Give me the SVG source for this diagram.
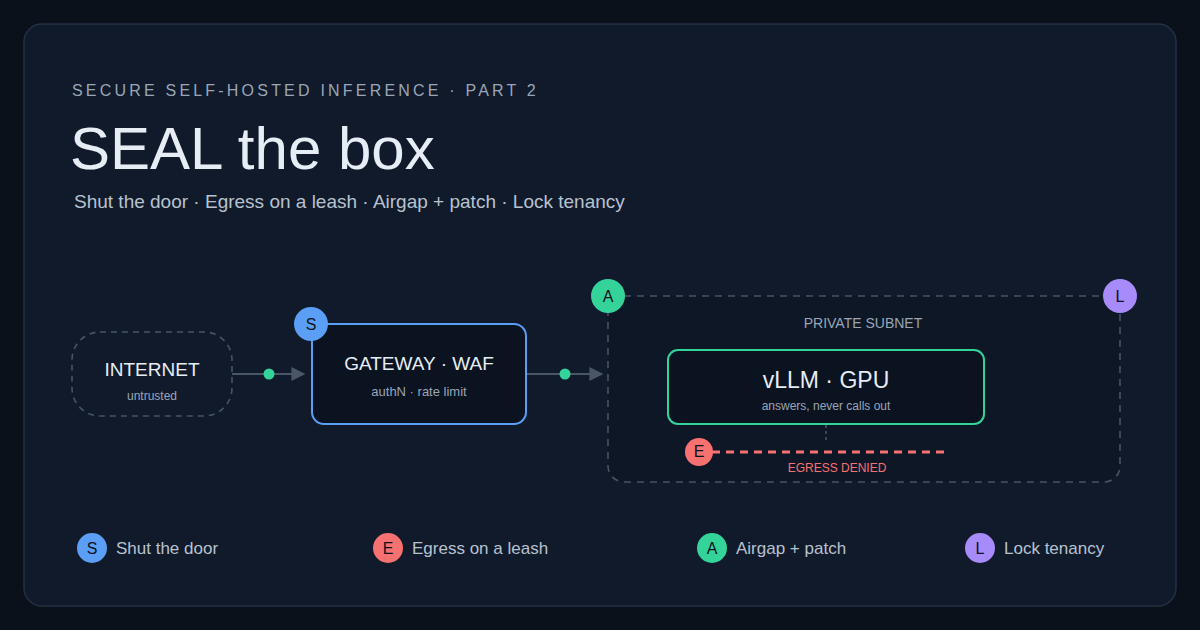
<svg xmlns="http://www.w3.org/2000/svg" width="1200" height="630" viewBox="0 0 1200 630">
<defs>
<style>
text{font-family:"Liberation Sans",Arial,sans-serif}
.t{fill:#e6edf5}.s{fill:#9aa6b6}
.badge text{font-size:16px;fill:#0b1220;text-anchor:middle}
.lg{font-size:17px;fill:#b8c2cf}
.conn{stroke:#4a5566;stroke-width:2;fill:none}
</style>
<marker id="ar" viewBox="0 0 10 10" refX="9" refY="5" markerWidth="7" markerHeight="7" orient="auto"><path d="M0,0L10,5L0,10z" fill="#4a5566"/></marker>
</defs>
<rect width="1200" height="630" fill="#0b111a"/>
<rect x="24" y="24" width="1152" height="582" rx="18" fill="#101a2b" stroke="#233044" stroke-width="1.5"/>
<text x="72" y="96" font-size="16" letter-spacing="3.2" class="s">SECURE SELF-HOSTED INFERENCE · PART 2</text>
<text x="70" y="169" font-size="60" class="t">SEAL the box</text>
<text x="74" y="208" font-size="19" fill="#b8c2cf">Shut the door · Egress on a leash · Airgap + patch · Lock tenancy</text>

<g id="subnet">
<rect x="608" y="296" width="512" height="186" rx="16" fill="#0e1726" stroke="#475366" stroke-width="1.6" stroke-dasharray="7 6"/>
<text x="863" y="328" font-size="14" text-anchor="middle" class="s">PRIVATE SUBNET</text>
</g>
<g id="connectors">
<line class="conn" x1="232" y1="374" x2="304" y2="374" marker-end="url(#ar)"/>
<circle cx="269" cy="374" r="5.5" fill="#34d399"/>
<line class="conn" x1="526" y1="374" x2="602" y2="374" marker-end="url(#ar)"/>
<circle cx="565" cy="374" r="5.5" fill="#34d399"/>
<line x1="826" y1="425" x2="826" y2="442" stroke="#4a5566" stroke-width="1.5" stroke-dasharray="3 3"/>
<line x1="712" y1="452" x2="944" y2="452" stroke="#f87171" stroke-width="3" stroke-dasharray="8 6"/>
</g>
<g id="internet">
<rect x="72" y="332" width="160" height="84" rx="28" fill="#101a2b" stroke="#475366" stroke-width="1.6" stroke-dasharray="6 5"/>
<text x="152" y="376" font-size="19" text-anchor="middle" class="t">INTERNET</text>
<text x="152" y="400" font-size="12" text-anchor="middle" class="s">untrusted</text>
</g>
<g id="gateway">
<rect x="312" y="324" width="214" height="100" rx="12" fill="#0b1220" stroke="#5b9ef5" stroke-width="2"/>
<text x="419" y="370" font-size="19" text-anchor="middle" class="t">GATEWAY · WAF</text>
<text x="419" y="396" font-size="13" text-anchor="middle" class="s">authN · rate limit</text>
</g>
<g id="vllm">
<rect x="668" y="350" width="316" height="74" rx="10" fill="#0b1220" stroke="#34d399" stroke-width="2"/>
<text x="826" y="388" font-size="23" text-anchor="middle" class="t">vLLM · GPU</text>
<text x="826" y="410" font-size="12" text-anchor="middle" class="s">answers, never calls out</text>
</g>
<text x="837" y="472" font-size="12" text-anchor="middle" fill="#f87171">EGRESS DENIED</text>
<g class="badge" id="badges">
<circle cx="311" cy="324" r="17" fill="#5b9ef5"/><text x="311" y="330">S</text>
<circle cx="608" cy="296" r="17" fill="#34d399"/><text x="608" y="302">A</text>
<circle cx="1120" cy="296" r="17" fill="#a78bfa"/><text x="1120" y="302">L</text>
<circle cx="699" cy="452" r="14" fill="#f87171"/><text x="699" y="457" font-size="14">E</text>
</g>
<g id="legend" class="badge">
<circle cx="92" cy="548" r="15" fill="#5b9ef5"/><text x="92" y="554" font-size="14">S</text>
<text x="116" y="554" class="lg" style="text-anchor:start;font-size:17px;fill:#b8c2cf">Shut the door</text>
<circle cx="388" cy="548" r="15" fill="#f87171"/><text x="388" y="554" font-size="14">E</text>
<text x="412" y="554" style="text-anchor:start;font-size:17px;fill:#b8c2cf">Egress on a leash</text>
<circle cx="712" cy="548" r="15" fill="#34d399"/><text x="712" y="554" font-size="14">A</text>
<text x="736" y="554" style="text-anchor:start;font-size:17px;fill:#b8c2cf">Airgap + patch</text>
<circle cx="980" cy="548" r="15" fill="#a78bfa"/><text x="980" y="554" font-size="14">L</text>
<text x="1004" y="554" style="text-anchor:start;font-size:17px;fill:#b8c2cf">Lock tenancy</text>
</g>
</svg>
